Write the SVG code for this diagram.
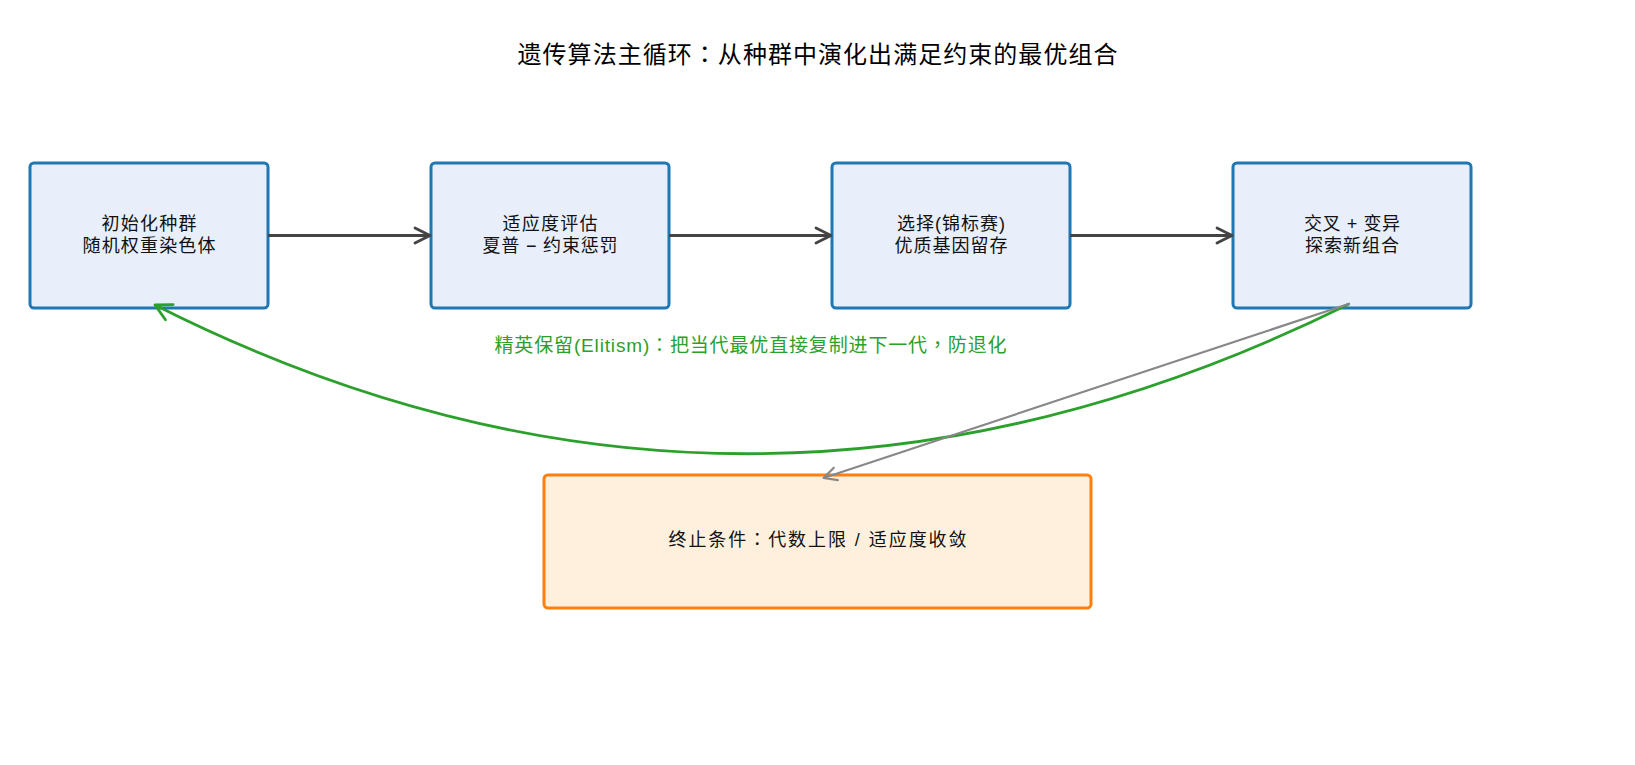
<svg xmlns="http://www.w3.org/2000/svg" width="1635" height="765" viewBox="0 0 1635 765">
  <style>
    text { font-family: "Liberation Sans", "Noto Sans CJK SC", sans-serif; }
    .p { font-family: "Noto Sans CJK TC", "Noto Sans CJK JP", sans-serif; }
    .title { font-size: 24px; fill: #000; }
    .lbl { font-size: 18px; fill: #111; }
    .elit { font-size: 19px; fill: #2ca02c; }
    .box { fill: #e8effb; stroke: #1f77b4; stroke-width: 3; }
    .term { fill: #fff0dd; stroke: #ff7f0e; stroke-width: 3; }
    .flow { fill: none; stroke: #444; stroke-width: 2.8; }
  </style>
  <defs>
    <marker id="ah-dark" markerWidth="24" markerHeight="24" viewBox="-20 -12 24 24" refX="0" refY="0" orient="auto" markerUnits="userSpaceOnUse">
      <path d="M-15,-7.5 L0,0 L-15,7.5" fill="none" stroke="#444" stroke-width="2.8" stroke-linecap="round" stroke-linejoin="round"/>
    </marker>
    <marker id="ah-green" markerWidth="28" markerHeight="28" viewBox="-22 -14 28 28" refX="0" refY="0" orient="auto" markerUnits="userSpaceOnUse">
      <path d="M-16,-8.5 L0,0 L-16,8.5" fill="none" stroke="#2ca02c" stroke-width="2.8" stroke-linecap="round" stroke-linejoin="round"/>
    </marker>
    <marker id="ah-gray" markerWidth="24" markerHeight="24" viewBox="-20 -12 24 24" refX="0" refY="0" orient="auto" markerUnits="userSpaceOnUse">
      <path d="M-13,-6.5 L0,0 L-13,6.5" fill="none" stroke="#888" stroke-width="2.2" stroke-linecap="round" stroke-linejoin="round"/>
    </marker>
  </defs>
  <rect width="1635" height="765" fill="#fff"/>
  <text class="title" x="817.5" y="63" text-anchor="middle" textLength="600" lengthAdjust="spacing">遗传算法主循环<tspan class="p">：</tspan>从种群中演化出满足约束的最优组合</text>

  <g id="node-init">
    <rect class="box" x="30" y="163" width="238" height="145" rx="4"/>
    <text class="lbl" x="149" y="229.5" text-anchor="middle" textLength="95" lengthAdjust="spacing">初始化种群</text>
    <text class="lbl" x="149" y="251.5" text-anchor="middle" textLength="133" lengthAdjust="spacing">随机权重染色体</text>
  </g>
  <g id="node-fitness">
    <rect class="box" x="431" y="163" width="238" height="145" rx="4"/>
    <text class="lbl" x="550" y="229.5" text-anchor="middle" textLength="95" lengthAdjust="spacing">适应度评估</text>
    <text class="lbl" x="550" y="251.5" text-anchor="middle" textLength="135" lengthAdjust="spacing">夏普 − 约束惩罚</text>
  </g>
  <g id="node-select">
    <rect class="box" x="832" y="163" width="238" height="145" rx="4"/>
    <text class="lbl" x="951" y="229.5" text-anchor="middle" textLength="108" lengthAdjust="spacing">选择(锦标赛)</text>
    <text class="lbl" x="951" y="251.5" text-anchor="middle" textLength="113" lengthAdjust="spacing">优质基因留存</text>
  </g>
  <g id="node-crossover">
    <rect class="box" x="1233" y="163" width="238" height="145" rx="4"/>
    <text class="lbl" x="1352" y="229.5" text-anchor="middle" textLength="96" lengthAdjust="spacing">交叉 + 变异</text>
    <text class="lbl" x="1352" y="251.5" text-anchor="middle" textLength="94" lengthAdjust="spacing">探索新组合</text>
  </g>
  <g id="node-terminate">
    <rect class="term" x="544" y="475" width="547" height="133" rx="4"/>
    <text class="lbl" x="817.5" y="546" text-anchor="middle" textLength="298" lengthAdjust="spacing">终止条件<tspan class="p">：</tspan>代数上限 / 适应度收敛</text>
  </g>

  <g id="connectors">
    <line class="flow" x1="268" y1="235.5" x2="430" y2="235.5" marker-end="url(#ah-dark)"/>
    <line class="flow" x1="669" y1="235.5" x2="831" y2="235.5" marker-end="url(#ah-dark)"/>
    <line class="flow" x1="1070" y1="235.5" x2="1232" y2="235.5" marker-end="url(#ah-dark)"/>
    <path d="M1349,304 Q745,603 155,305" fill="none" stroke="#2ca02c" stroke-width="2.8" marker-end="url(#ah-green)"/>
    <line x1="1350" y1="303.5" x2="823.5" y2="478" stroke="#888" stroke-width="2.2" marker-end="url(#ah-gray)"/>
    <text class="elit" x="750.5" y="351.5" text-anchor="middle" textLength="512" lengthAdjust="spacing">精英保留(Elitism)<tspan class="p">：</tspan>把当代最优直接复制进下一代<tspan class="p">，</tspan>防退化</text>
  </g>
</svg>
